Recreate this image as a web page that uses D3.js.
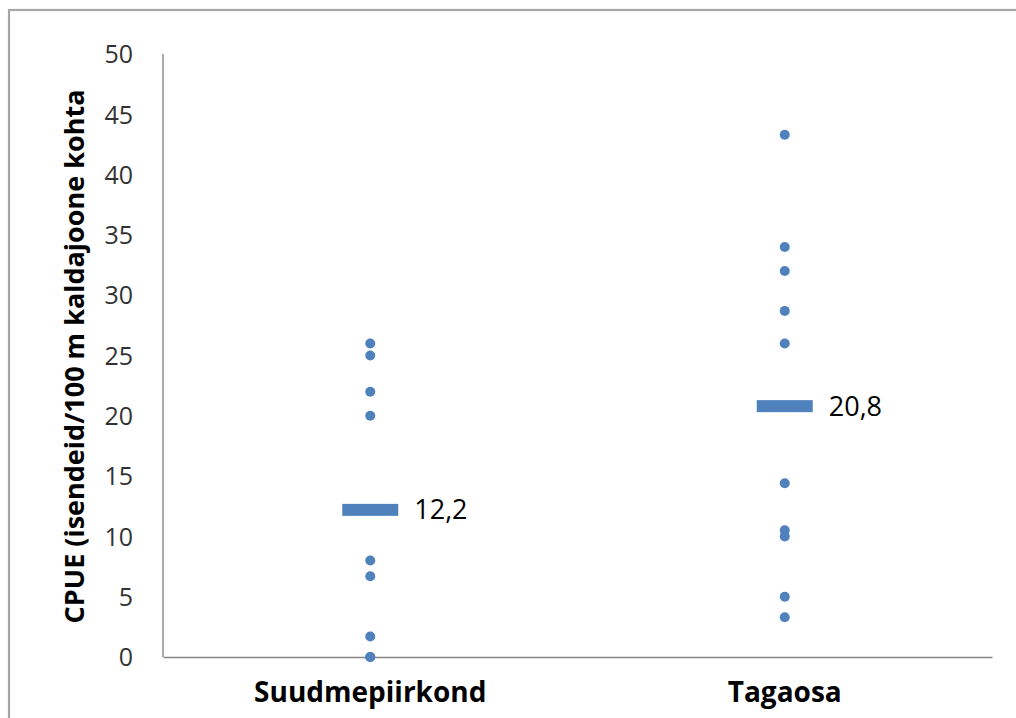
<!DOCTYPE html>
<html>
<head>
<meta charset="utf-8">
<script src="https://cdn.jsdelivr.net/npm/d3@7"></script>
<style>
  html, body { margin: 0; padding: 0; background: #fff; }
  svg { display: block; }
  text { font-family: "Open Sans", "Liberation Sans", sans-serif; }
</style>
</head>
<body>
<svg id="chart" width="1016" height="718"></svg>
<script>
// ---- data ----
const categories = ["Suudmepiirkond", "Tagaosa"];
const suudmepiirkondValues = [26, 25, 22, 20, 8, 6.7, 1.7, 0, 0];
const tagaosaValues = [43.3, 34, 32, 28.7, 26, 14.4, 10.5, 10, 5, 3.3];
const means = [12.2, 20.8];
const meanLabels = ["12,2", "20,8"];
const yTicks = [0, 5, 10, 15, 20, 25, 30, 35, 40, 45, 50];
const yTitle = "CPUE (isendeid/100 m kaldajoone kohta";

const seriesValues = [suudmepiirkondValues, tagaosaValues];

const svg = d3.select("#chart");
const W = 1016, H = 718;
const plot = { left: 163, right: 992, top: 54, bottom: 657 };
const blue = "#4F81BD";

// outer frame
svg.append("rect")
  .attr("x", 9).attr("y", 10)
  .attr("width", W + 20).attr("height", H + 20)
  .attr("fill", "none").attr("stroke", "#A6A6A6").attr("stroke-width", 2.2);

const x = d3.scaleBand().domain(categories).range([plot.left, plot.right]);
const y = d3.scaleLinear().domain([0, 50]).range([plot.bottom, plot.top]);

// y axis (labels only, no ticks)
const yAxis = d3.axisLeft(y).tickValues(yTicks).tickSize(0).tickPadding(0)
  .tickFormat(d => String(d));
const gy = svg.append("g").attr("transform", `translate(${plot.left - 30},0)`).call(yAxis);
gy.select(".domain").remove();
gy.selectAll("text").attr("font-size", 25).attr("fill", "#333")
  .attr("font-family", "Open Sans").attr("dy", "0.35em");

// axis lines
svg.append("line")
  .attr("x1", plot.left).attr("x2", plot.left)
  .attr("y1", plot.top).attr("y2", plot.bottom)
  .attr("stroke", "#868686").attr("stroke-width", 1.4);

// x axis
const xAxis = d3.axisBottom(x).tickSize(0).tickPadding(0);
const gx = svg.append("g").attr("transform", `translate(0,${plot.bottom})`).call(xAxis);
gx.select(".domain").attr("stroke", "#868686").attr("stroke-width", 1.4);
gx.selectAll("text").attr("font-size", 28).attr("font-weight", "bold")
  .attr("fill", "#000").attr("font-family", "Open Sans").attr("dy", "1.62em");

// y title
svg.append("text")
  .attr("transform", `translate(84,${(88 + 625) / 2}) rotate(-90)`)
  .attr("text-anchor", "middle")
  .attr("font-size", 27).attr("font-weight", "bold").attr("fill", "#000")
  .text(yTitle);

// dots
categories.forEach((c, i) => {
  svg.append("g").selectAll("circle")
    .data(seriesValues[i])
    .join("circle")
    .attr("cx", x(c) + x.bandwidth() / 2)
    .attr("cy", d => y(d))
    .attr("r", 5)
    .attr("fill", blue);
});

// mean bars
svg.append("g").selectAll("rect")
  .data(means)
  .join("rect")
  .attr("x", (d, i) => x(categories[i]) + x.bandwidth() / 2 - 28)
  .attr("y", d => y(d) - 6)
  .attr("width", 56).attr("height", 12)
  .attr("fill", blue);

svg.append("g").selectAll("text")
  .data(means)
  .join("text")
  .attr("x", (d, i) => x(categories[i]) + x.bandwidth() / 2 + 44)
  .attr("y", d => y(d))
  .attr("dy", "0.35em")
  .attr("font-size", 27).attr("fill", "#000")
  .text((d, i) => meanLabels[i]);
</script>
</body>
</html>
